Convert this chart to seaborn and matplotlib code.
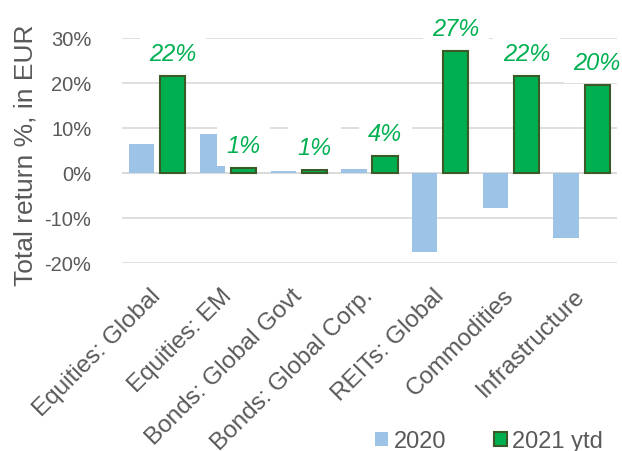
import matplotlib
matplotlib.use("Agg")
import matplotlib.pyplot as plt
from matplotlib.patches import Patch
from matplotlib.ticker import FuncFormatter
import seaborn as sns
import pandas as pd

categories = ["Equities: Global", "Equities: EM", "Bonds: Global Govt",
              "Bonds: Global Corp.", "REITs: Global", "Commodities", "Infrastructure"]
series_names = ["2020", "2021 ytd"]
values_2020 = [6.4, 8.7, 0.4, 0.9, -17.6, -7.8, -14.5]
values_2021 = [21.6, 1.1, 0.6, 3.8, 27.1, 21.6, 19.6]
yticks = [-20, -10, 0, 10, 20, 30]

col_2020 = "#9DC3E6"
col_2021 = "#00B050"
edge_2021 = "#3A5A27"
text_col = "#595959"

df = pd.DataFrame({
    "category": categories * 2,
    "series": [series_names[0]] * len(categories) + [series_names[1]] * len(categories),
    "value": values_2020 + values_2021,
})

sns.set_theme(style="white")
plt.rcParams["font.family"] = ["Liberation Sans", "DejaVu Sans"]

fig = plt.figure(figsize=(6.22, 4.52), dpi=100)
ax = fig.add_axes([0.196, 0.416, 0.796, 0.498])

sns.barplot(data=df, x="category", y="value", hue="series", order=categories,
            hue_order=series_names, palette=[col_2020, col_2021], saturation=1,
            width=0.88, gap=0.19, legend=False, ax=ax, zorder=2)

for p in ax.containers[1]:
    p.set_edgecolor(edge_2021)
    p.set_linewidth(1.5)
for p in ax.containers[0]:
    p.set_linewidth(0)

labels_2021 = [f"{round(v)}%" for v in values_2021]
ax.bar_label(ax.containers[1], labels=labels_2021, padding=8, fontsize=17,
             fontstyle="italic", color=col_2021, zorder=5,
             bbox=dict(boxstyle="square,pad=0.4", facecolor="white", edgecolor="none"))

ax.set_ylim(-20, 30)
ax.set_yticks(yticks)
ax.yaxis.set_major_formatter(FuncFormatter(lambda v, _: f"{int(v)}%"))
ax.grid(axis="y", color="#D9D9D9", linewidth=1.2, zorder=0)
ax.set_axisbelow(True)
for s in ax.spines.values():
    s.set_visible(False)
ax.axhline(0, color="#D9D9D9", linewidth=1.2, zorder=1)

ax.tick_params(axis="y", length=0, pad=22, labelsize=14.5, labelcolor=text_col)
ax.tick_params(axis="x", length=0, pad=21, labelsize=17.5, labelcolor=text_col)
for lab in ax.get_xticklabels():
    lab.set_rotation(45)
    lab.set_ha("right")
    lab.set_va("center")
    lab.set_rotation_mode("anchor")

ax.set_xlabel("")
ax.set_ylabel("Total return %, in EUR", fontsize=19, color=text_col)
ax.yaxis.set_label_coords(-0.17, 0.485)

handles = [Patch(facecolor=col_2020, edgecolor="none"),
           Patch(facecolor=col_2021, edgecolor=edge_2021, linewidth=1.5)]
fig.legend(handles, series_names, loc="center left", bbox_to_anchor=(375 / 622, 1 - 442 / 452),
           ncol=2, frameon=False, fontsize=17, handlelength=0.55, handleheight=0.55,
           handletextpad=0.25, columnspacing=2.0, labelcolor=text_col,
           borderpad=0, borderaxespad=0)

fig.savefig("out.png", dpi=100)
